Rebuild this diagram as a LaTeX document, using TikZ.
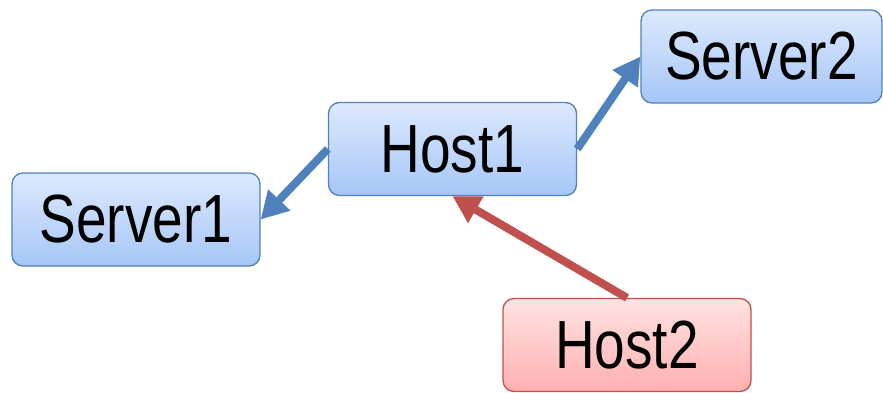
\documentclass[tikz,border=0pt]{standalone}
\usepackage{fontspec}
\setmainfont{Liberation Sans}
\usetikzlibrary{arrows.meta}
\definecolor{bluefill1}{HTML}{DDE9FD}
\definecolor{bluefill2}{HTML}{A6C6F7}
\definecolor{blueborder}{HTML}{4F81BD}
\definecolor{redfill1}{HTML}{FFE2E2}
\definecolor{redfill2}{HTML}{FFB0B0}
\definecolor{redborder}{HTML}{C0504D}
\newcommand{\boxtext}[1]{\scalebox{1}[1.24]{\fontsize{55}{60}\selectfont #1}}
\tikzset{
  bluebox/.style={draw=blueborder, line width=1.3pt, rounded corners=11pt,
    top color=bluefill1, bottom color=bluefill2, minimum width=248pt, minimum height=93pt, inner sep=0pt},
  redbox/.style={draw=redborder, line width=1.3pt, rounded corners=11pt,
    top color=redfill1, bottom color=redfill2, minimum width=248pt, minimum height=93pt, inner sep=0pt},
  bluearrow/.style={draw=blueborder, line width=8pt, -{Triangle[length=27pt,width=29pt]}},
  redarrow/.style={draw=redborder, line width=8pt, -{Triangle[length=27pt,width=29pt]}}
}
\begin{document}
\begin{tikzpicture}[x=1pt,y=-1pt]
\useasboundingbox (0,0) rectangle (883,392);
\node[bluebox] (server1) at (136,219.5) {\boxtext{Server1}};
\node[bluebox] (host1) at (452.5,149) {\boxtext{Host1}};
\node[bluebox, minimum width=241pt] (server2) at (761.5,56.5) {\boxtext{Server2}};
\node[redbox] (host2) at (627,345) {\boxtext{Host2}};
\draw[bluearrow] (host1.west) -- (server1.east);
\draw[bluearrow] (host1.east) -- (server2.west);
\draw[redarrow] (host2.north) -- (host1.south);
\end{tikzpicture}
\end{document}
